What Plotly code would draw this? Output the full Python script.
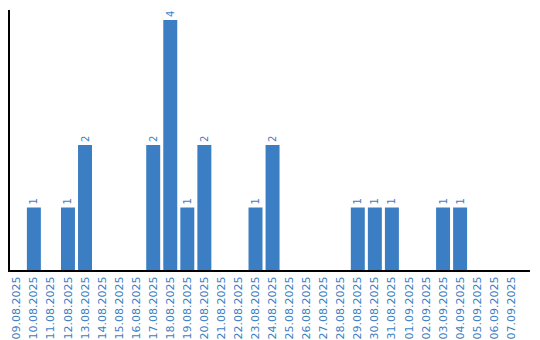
import plotly.graph_objects as go

dates = ["09.08.2025","10.08.2025","11.08.2025","12.08.2025","13.08.2025","14.08.2025",
         "15.08.2025","16.08.2025","17.08.2025","18.08.2025","19.08.2025","20.08.2025",
         "21.08.2025","22.08.2025","23.08.2025","24.08.2025","25.08.2025","26.08.2025",
         "27.08.2025","28.08.2025","29.08.2025","30.08.2025","31.08.2025","01.09.2025",
         "02.09.2025","03.09.2025","04.09.2025","05.09.2025","06.09.2025","07.09.2025"]
counts = [0,1,0,1,2,0,0,0,2,4,1,2,0,0,1,2,0,0,0,0,1,1,1,0,0,1,1,0,0,0]

blue = "#3b7ec4"
labels = [str(v) if v > 0 else "" for v in counts]

fig = go.Figure(go.Bar(
    x=list(range(len(dates))), y=counts, text=labels,
    textposition="outside", textangle=-90, cliponaxis=False,
    textfont=dict(color=blue, size=10, family="DejaVu Sans"),
    marker=dict(color=blue, line=dict(width=0)), width=0.82,
))
fig.update_layout(
    width=540, height=340, margin=dict(l=10, r=10, t=10, b=70, autoexpand=False),
    paper_bgcolor="white", plot_bgcolor="white", showlegend=False,
    bargap=0.18,
    xaxis=dict(range=[-0.4, 30.1], tickmode="array", tickvals=list(range(len(dates))),
               ticktext=dates, tickangle=-90, showgrid=False, zeroline=False,
               showline=True, linecolor="black", linewidth=2, ticks="", automargin=False,
               tickfont=dict(color=blue, size=11, family="DejaVu Sans")),
    yaxis=dict(range=[0, 4.16], showgrid=False, zeroline=False, showticklabels=False,
               showline=True, linecolor="black", linewidth=2, ticks="", automargin=False),
)
fig.write_html("out.html")
